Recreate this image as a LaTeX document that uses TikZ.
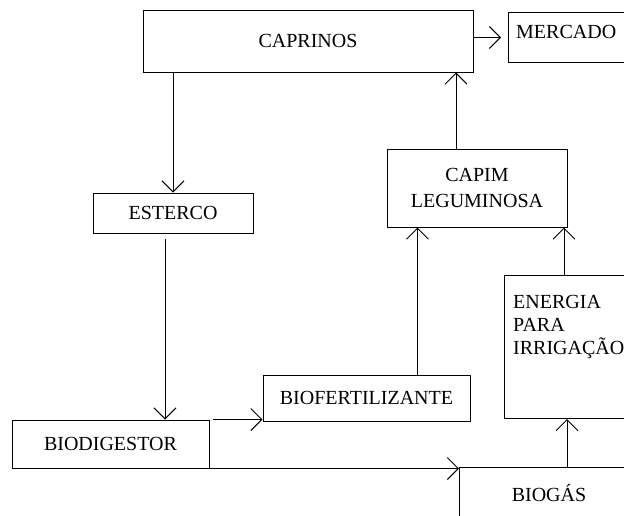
\documentclass[tikz,border=0pt]{standalone}
\usepackage{fontspec}
\setmainfont{Liberation Serif}
\usetikzlibrary{arrows.meta}
\tikzset {
    style A/.style={
        draw=black,
        line width=1pt,
        rectangle, % Set the shape as a rectangle
        inner sep=0pt,
        align=center,
    },
    style T/.style={
        draw=none,
        inner sep=0pt,
        align=left,
    },
    link/.style={
        draw=black,
        line width=1pt,
        -{Straight Barb[length=11pt,width=22pt]},
    },
}

\begin{document}
\begin{tikzpicture}
[x=1pt, y=-1pt, font=\fontsize{20}{23}\selectfont]
\useasboundingbox (0,0) rectangle (624,515);
\clip (0,0) rectangle (624,515);

\node[style A, minimum width=330pt, minimum height=62pt] at (308,41) (caprinos) {CAPRINOS};
\node[style A, anchor=north west, minimum width=140pt, minimum height=50pt] at (508,12) (mercado) {};
\node[style T, anchor=west] at (516,32) (mercadoTxt) {MERCADO};

\node[style A, minimum width=160pt, minimum height=40pt] at (173,213) (esterco) {ESTERCO};
\node[style A, minimum width=180pt, minimum height=78pt] at (477,188) (capim) {CAPIM\\[3pt]LEGUMINOSA};

\node[style A, anchor=north west, minimum width=140pt, minimum height=143pt] at (504,275) (energia) {};
\node[style T, anchor=north west] at (513,295) (energiaTxt) {ENERGIA\\PARA\\IRRIGAÇÃO};

\node[style A, minimum width=207pt, minimum height=46pt] at (366.5,398) (biofert) {BIOFERTILIZANTE};
\node[style A, minimum width=197pt, minimum height=48pt] at (110.5,444) (biodigestor) {BIODIGESTOR};
\node[style A, anchor=north west, minimum width=200pt, minimum height=80pt] at (459,467) (biogas) {};
\node[style T] at (549,493) (biogasTxt) {BIOGÁS};

\coordinate (dung) at ([xshift=-8pt]esterco.south);
\coordinate (feed) at ([xshift=51pt]biofert.north);
\coordinate (gas) at ([xshift=108pt]biogas.north west);
\coordinate (water) at ([xshift=60pt]energia.north west);
\coordinate (grass) at ([xshift=-21pt]capim.north);

\draw[link, shorten >=7pt] (caprinos.east |- mercado.west) -- (mercado.west);
\draw[link] (caprinos.south -| esterco.north) -- (esterco.north);
\draw[link, shorten <=5pt] (dung) -- (dung |- biodigestor.north);
\draw[link, shorten <=3pt] (biodigestor.north east) -- (biodigestor.north east -| biofert.west);
\draw[link] (biodigestor.south east) -- (biodigestor.south east -| biogas.west);
\draw[link] (feed) -- (feed |- capim.south);
\draw[link] (gas) -- (gas |- energia.south);
\draw[link] (water) -- (water |- capim.south);
\draw[link] (grass) -- (grass |- caprinos.south);
\end{tikzpicture}
\end{document}
